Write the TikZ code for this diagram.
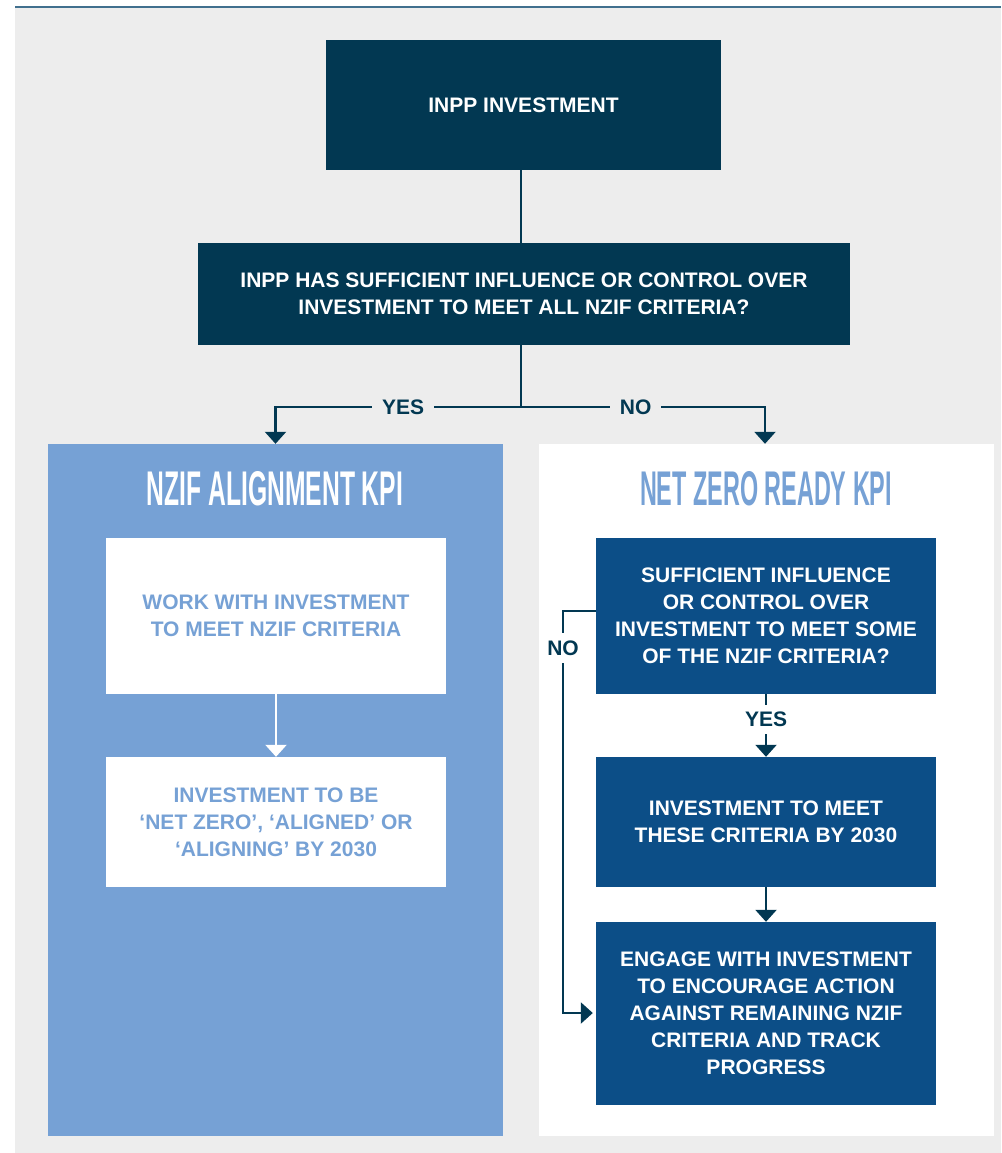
\documentclass[tikz,border=0pt]{standalone}
\usepackage{fontspec}
\usepackage{graphicx}
\setmainfont{Liberation Sans}
\usetikzlibrary{arrows.meta}
\definecolor{navy}{HTML}{023852}
\definecolor{midblue}{HTML}{0C4E87}
\definecolor{lightblue}{HTML}{76A1D5}
\definecolor{bggrey}{HTML}{EDEDED}
\definecolor{rulecol}{HTML}{41708E}
\tikzset{
  boxnode/.style={rectangle, inner sep=0pt, align=center,
    font=\fontsize{21}{27}\selectfont\bfseries},
  darkbox/.style={boxnode, fill=navy, text=white},
  bluebox/.style={boxnode, fill=midblue, text=white},
  whitebox/.style={boxnode, fill=white, text=lightblue},
  panel/.style={rectangle, inner sep=0pt},
  titlenode/.style={inner sep=0pt},
  conn/.style={draw=navy, line width=2.2pt},
  arr/.style={conn, -{Triangle[width=21pt,length=12pt]}},
  warr/.style={draw=white, line width=2.2pt, -{Triangle[width=21pt,length=12pt]}},
  lbl/.style={fill=bggrey, text=navy, inner xsep=10pt, inner ysep=6pt,
    font=\fontsize{21}{25}\selectfont\bfseries},
  lblw/.style={lbl, fill=white}
}
\begin{document}
\begin{tikzpicture}[x=1pt,y=-1pt]
\useasboundingbox (0,0) rectangle (1001,1153);
\fill[white] (0,0) rectangle (1001,1153);
\fill[bggrey] (15,8) rectangle (1001,1153);
\draw[rulecol, line width=2pt] (15,7.5) -- (1001,7.5);

% top boxes
\node[darkbox, minimum width=395pt, minimum height=130pt] (box1) at (523.5,105) {INPP INVESTMENT};
\node[darkbox, minimum width=652pt, minimum height=102pt] (box2) at (524,294)
  {INPP HAS SUFFICIENT INFLUENCE OR CONTROL OVER\\INVESTMENT TO MEET ALL NZIF CRITERIA?};

% panels
\node[panel, fill=lightblue, minimum width=455pt, minimum height=692pt] (lpanel) at (275.5,790) {};
\node[panel, fill=white, minimum width=455pt, minimum height=692pt] (rpanel) at (766.5,790) {};

\node[titlenode, text=white] (ltitle) at (275,489) {\resizebox{256pt}{34pt}{\bfseries NZIF ALIGNMENT KPI}};
\node[titlenode, text=lightblue] (rtitle) at (766,489) {\resizebox{252pt}{34pt}{\bfseries NET ZERO READY KPI}};

% left panel boxes
\node[whitebox, minimum width=340pt, minimum height=156pt] (L1) at (276,616)
  {WORK WITH INVESTMENT\\TO MEET NZIF CRITERIA};
\node[whitebox, minimum width=340pt, minimum height=130pt] (L2) at (276,822)
  {INVESTMENT TO BE\\‘NET ZERO’, ‘ALIGNED’ OR\\‘ALIGNING’ BY 2030};

% right panel boxes
\node[bluebox, minimum width=340pt, minimum height=156pt] (R1) at (766,616)
  {SUFFICIENT INFLUENCE\\OR CONTROL OVER\\INVESTMENT TO MEET SOME\\OF THE NZIF CRITERIA?};
\node[bluebox, minimum width=340pt, minimum height=130pt] (R2) at (766,822)
  {INVESTMENT TO MEET\\THESE CRITERIA BY 2030};
\node[bluebox, minimum width=340pt, minimum height=183pt] (R3) at (766,1013.5)
  {ENGAGE WITH INVESTMENT\\TO ENCOURAGE ACTION\\AGAINST REMAINING NZIF\\CRITERIA AND TRACK\\PROGRESS};

% connectors
\coordinate (split) at (521,407);
\coordinate (yl) at (275.5,407);
\coordinate (nr) at (765,407);
\draw[conn] (box1.south -| split) -- (box2.north -| split);
\draw[conn] (box2.south -| split) -- (split);
\draw[arr] (split) -- node[lbl, pos=0.48] {YES} (yl) -- (yl |- lpanel.north);
\draw[arr] (split) -- node[lbl, pos=0.47] {NO} (nr) -- (nr |- rpanel.north);

\draw[warr] (L1.south) -- (L2.north);

\draw[arr] (R1.south) -- node[lblw, pos=0.40, inner ysep=7pt] {YES} (R2.north);
\draw[arr] (R2.south) -- (R3.north);

\coordinate (nt) at (563,611);
\coordinate (nb) at (563,1013);
\draw[arr] (R1.west |- nt) -- (nt) -- node[lblw, pos=0.092, inner ysep=8pt, inner xsep=3pt] {NO} (nb) -- ([xshift=-3pt]R3.west |- nb);
\end{tikzpicture}
\end{document}
